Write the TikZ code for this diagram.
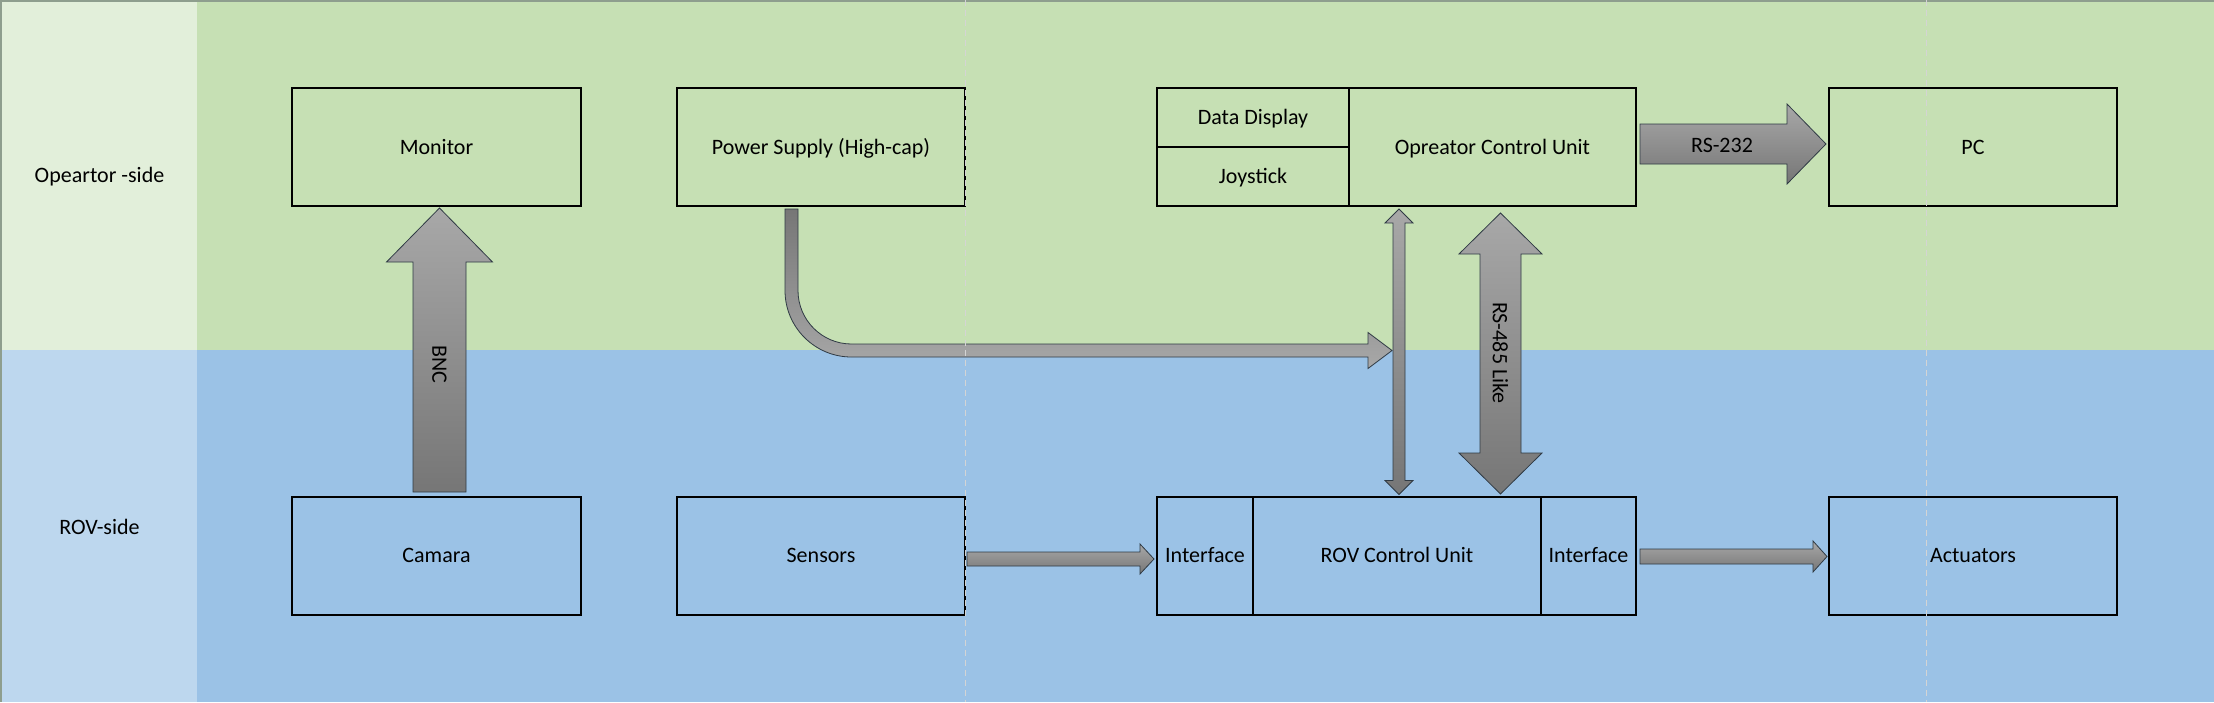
\documentclass[tikz,border=0pt]{standalone}
\usepackage{fontspec}
\setmainfont{Carlito}
\usetikzlibrary{calc,positioning}

\definecolor{sidegreen}{HTML}{E2EFDA}
\definecolor{bandgreen}{HTML}{C6E0B4}
\definecolor{sideblue}{HTML}{BDD7EE}
\definecolor{bandblue}{HTML}{9BC2E6}
\definecolor{arrowlight}{HTML}{A8A8A8}
\definecolor{arrowdark}{HTML}{767676}
\definecolor{arrowline}{HTML}{2F3A44}
\definecolor{breakgray}{HTML}{D4D4D4}
\definecolor{framegray}{HTML}{8E9E8E}

\tikzset{
	unitbox/.style={draw, line width=2pt, inner sep=0pt, outer sep=0pt, minimum height=118pt, text height=14pt, text depth=0pt},
	arrowbody/.style={top color=arrowlight, bottom color=arrowdark, draw=arrowline, line width=0.8pt},
	pagebreak/.style={breakgray, line width=1pt, dash pattern=on 6pt off 4pt},
}

% block arrow: [options]{from}{to}{half shaft}{half head}{head length}
\newcommand{\blockarrow}[6][]{%
	\path (#2) coordinate (ba-s) (#3) coordinate (ba-e);
	\path ($(ba-e)!#6!(ba-s)$) coordinate (ba-h);
	\shadedraw[arrowbody,#1] ($(ba-s)!#4!90:(ba-e)$) -- ($(ba-h)!#4!90:(ba-e)$) -- ($(ba-h)!#5!90:(ba-e)$)
		-- (ba-e) -- ($(ba-h)!#5!-90:(ba-e)$) -- ($(ba-h)!#4!-90:(ba-e)$) -- ($(ba-s)!#4!-90:(ba-e)$) -- cycle;}
% same with a head on both ends
\newcommand{\twowayarrow}[6][]{%
	\path (#2) coordinate (ba-s) (#3) coordinate (ba-e);
	\path ($(ba-e)!#6!(ba-s)$) coordinate (ba-h) ($(ba-s)!#6!(ba-e)$) coordinate (ba-g);
	\shadedraw[arrowbody,#1] (ba-s) -- ($(ba-g)!#5!90:(ba-e)$) -- ($(ba-g)!#4!90:(ba-e)$) -- ($(ba-h)!#4!90:(ba-e)$)
		-- ($(ba-h)!#5!90:(ba-e)$) -- (ba-e) -- ($(ba-h)!#5!-90:(ba-e)$) -- ($(ba-h)!#4!-90:(ba-e)$)
		-- ($(ba-g)!#4!-90:(ba-e)$) -- ($(ba-g)!#5!-90:(ba-e)$) -- cycle;}

\begin{document}
\begin{tikzpicture}[x=1pt,y=-1pt,font=\fontsize{22}{26}\selectfont]
	\useasboundingbox (0,0) rectangle (2214,702);
	% the two bands
	\fill[sidegreen] (0,0) rectangle (197,350);
	\fill[bandgreen] (197,0) rectangle (2214,350);
	\fill[sideblue] (0,350) rectangle (197,702);
	\fill[bandblue] (197,350) rectangle (2214,702);
	\draw[framegray, line width=1.5pt] (0.75,702) -- (0.75,0.75) -- (2214,0.75);

	\node (opside) at (99.5,177) {Opeartor -side};
	\node (rovside) at (99.5,527) {ROV-side};

	% operator side
	\node[unitbox, minimum width=289pt] (monitor) at (436.5,147) {Monitor};
	\node[unitbox, minimum width=288pt] (power) at (821,147) {Power Supply (High-cap)};
	\node[unitbox, minimum width=192pt, minimum height=59pt] (display) at (1253,117.5) {Data Display};
	\node[unitbox, minimum width=192pt, minimum height=59pt, below=0pt of display] (joystick) {Joystick};
	\node[unitbox, minimum width=287pt] (ocu) at (1492.5,147) {Opreator Control Unit};
	\node[unitbox, minimum width=288pt] (pc) at (1973,147) {PC};

	% rov side
	\node[unitbox, minimum width=289pt] (camera) at (436.5,555.5) {Camara};
	\node[unitbox, minimum width=288pt] (sensors) at (821,555.5) {Sensors};
	\node[unitbox, minimum width=96pt] (ifin) at (1205,555.5) {Interface};
	\node[unitbox, minimum width=288pt] (rovcu) at (1397,555.5) {ROV Control Unit};
	\node[unitbox, minimum width=95pt] (ifout) at (1588.5,555.5) {Interface};
	\node[unitbox, minimum width=288pt] (actuators) at (1973,555.5) {Actuators};

	% links
	\blockarrow{$(camera.north)+(3,-4.5)$}{$(monitor.south)+(3,2)$}{26.5pt}{53pt}{54pt}
	\node[rotate=-90] (bnc) at (439.5,364) {BNC};

	\blockarrow{$(ocu.east)+(4,-3)$}{$(pc.west)+(-3,-3)$}{20pt}{40pt}{39pt}
	\node (rs232) at (1722,145) {RS-232};

	\blockarrow{$(sensors.east)+(2,3.5)$}{$(ifin.west)+(-3,3.5)$}{7pt}{15pt}{14pt}
	\blockarrow{$(ifout.east)+(4,1)$}{$(actuators.west)+(-2,1)$}{7.5pt}{15.5pt}{14pt}

	\coordinate (lnktop) at ($(rovcu.north |- ocu.south)+(2,3)$);
	\coordinate (lnkbot) at ($(rovcu.north)+(2,-2)$);
	\twowayarrow{lnktop}{lnkbot}{6pt}{14pt}{14pt}

	\twowayarrow{$(ocu.south)+(8,7)$}{$(rovcu.north -| ocu.south)+(8,-2.5)$}{20.5pt}{41.5pt}{41pt}
	\node[rotate=-90] (rs485) at (1500.5,353) {RS-485 Like};

	% supply cable, bent into the link
	\coordinate (pwrtop) at ($(power.south)+(-29.5,3)$);
	\coordinate (pwrtip) at ($(lnktop)+(-7,141.5)$);
	\shadedraw[arrowbody, top color=arrowdark, bottom color=arrowlight]
		($(pwrtop)+(-6.5,0)$) -- ($(pwrtop |- pwrtip)+(-6.5,-60)$) arc[start angle=180, end angle=90, radius=66.5]
		-- ($(pwrtip)+(-24,6.5)$) -- ($(pwrtip)+(-24,18)$) -- (pwrtip) -- ($(pwrtip)+(-24,-18)$)
		-- ($(pwrtip)+(-24,-6.5)$) -- ($(pwrtop |- pwrtip)+(60,-6.5)$) arc[start angle=90, end angle=180, radius=53.5]
		-- ($(pwrtop)+(6.5,0)$) -- cycle;

	% page breaks
	\draw[pagebreak] (965,0) -- (965,702);
	\draw[pagebreak] (1926,0) -- (1926,702);
\end{tikzpicture}
\end{document}
